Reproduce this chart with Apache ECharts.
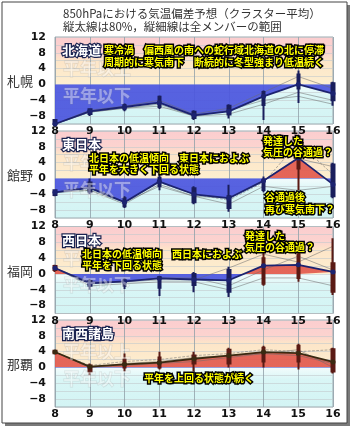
<!DOCTYPE html>
<html>
<head>
<meta charset="utf-8">
<script src="https://cdn.jsdelivr.net/npm/echarts@6/dist/echarts.min.js"></script>
<style>
  html, body { margin: 0; padding: 0; background: #fff; }
  #chart { width: 353px; height: 429px; }
</style>
</head>
<body>
<div id="chart"></div>
<script>
// days of the month on the x axis
const days = ['8', '9', '10', '11', '12', '13', '14', '15', '16'];

// 札幌 (北海道)
const sapporoMean = [-10, -6.8, -5.7, -4.6, -7.8, -6.8, -3.0, 0, -2.3];
const sapporo80 = [[-10, -9], [-7.5, -6.3], [-6.3, -5.2], [-5.7, -3.1], [-8.5, -6.9], [-7.6, -5.4], [-5.2, -1.9], [-1, 2.5], [-4, 0.3]];
const sapporoAll = [[-10, -9], [-8, -6], [-6.8, -4.8], [-6.2, -2.8], [-9, -6.5], [-8.6, -5], [-9, -1.5], [-4.7, 3.5], [-5.4, 0.7]];
const sapporoMembers = [
  [-10, -7, -6, -5, -8, -7.5, -5, -2, -4],
  [-10, -6.5, -5.5, -4, -7.5, -6, -2, 2, -1],
  [-10, -7, -6, -5.5, -8, -6.5, -4, -3, -5]
];

// 館野 (東日本)
const tatenoMean = [-3.5, -2.4, -6, -0.8, -4, -5, -0.6, 5.2, -1.5];
const tateno80 = [[-4.2, -3], [-3.5, -1], [-7, -5], [-2, 0.2], [-6, -2.5], [-7.5, -4.5], [-2.9, -0.3], [2.5, 5.6], [-4.5, 3.5]];
const tatenoAll = [[-4.5, -2.8], [-4, 0], [-7.5, -4.5], [-3, 1], [-6.5, -2], [-8.4, -1.6], [-3.5, 0.5], [-3, 6.5], [-5, 4]];
const tatenoMembers = [
  [-3.5, -2, -6, -1, -4, -5.5, -1, 9, 1],
  [-3.5, -3, -6.5, -1.5, -4.5, -5, -0.5, 5, 3],
  [-3.5, -3, -6, -2, -4.5, -6.5, -2, -3, -2]
];

// 福岡 (西日本)
const fukuokaMean = [1.5, -2.4, -1.9, -1.1, -1.4, -1.6, 2.1, 2.3, 0.5];
const fukuoka80 = [[1, 2], [-3, -1.8], [-3, -1.5], [-3.5, -0.8], [-2.8, 0], [-4.5, 1], [-2.5, 4], [-1, 5], [-4.5, 2.7]];
const fukuokaAll = [[0.5, 2.3], [-4, -1.2], [-3.8, -1], [-5.6, -0.5], [-4.6, 0.5], [-5.8, 1.8], [-3, 6.5], [-2, 5.5], [-5.3, 9]];
const fukuokaMembers = [
  [1.5, -2.5, -2, -1.5, -1.5, 1.5, 5, 3, 7],
  [1.5, -2, -2, -1, -1, -3, 1, 4.5, 1],
  [1.5, -3, -2.5, -2, -2, -4, -1, -1, -3]
];

// 那覇 (南西諸島)
const nahaMean = [3.9, 0.2, 0.8, 1.2, 2.2, 3, 3.9, 3.6, 1.4];
const naha80 = [[3.6, 4.2], [-1, 0.5], [0, 2], [0, 2.5], [1, 3], [1, 4.5], [1.5, 5], [1.5, 5.5], [-1, 4.6]];
const nahaAll = [[3.5, 4.3], [-2, 1], [-1, 3.5], [-0.5, 4], [-1, 4], [0, 5], [0, 5.5], [-0.5, 6], [-1.5, 5]];
const nahaMembers = [
  [3.9, 0.5, 1.5, 2, 3, 3.5, 4.5, 4, 4.5],
  [3.9, 0, 0.5, 1, 1.5, 2.5, 3.5, 3, 1],
  [3.9, 0, 1, 1.5, 2.5, 3, 3.5, 4.5, 0]
];

const stations = [
  { name: '札幌', region: '北海道', mean: sapporoMean, p80: sapporo80, all: sapporoAll, members: sapporoMembers, lineColor: '#1c2370', dashed: [] },
  { name: '館野', region: '東日本', mean: tatenoMean, p80: tateno80, all: tatenoAll, members: tatenoMembers, lineColor: '#1c2370', dashed: [0] },
  { name: '福岡', region: '西日本', mean: fukuokaMean, p80: fukuoka80, all: fukuokaAll, members: fukuokaMembers, lineColor: '#1c2370', dashed: [] },
  { name: '那覇', region: '南西諸島', mean: nahaMean, p80: naha80, all: nahaAll, members: nahaMembers, lineColor: '#3a2a12', dashed: [0] }
];

const tops = [37, 131, 226.5, 320];
const H = 87;
const YMIN = -10, YMAX = 12;
const valToY = (i, v) => tops[i] + (YMAX - v) * H / (YMAX - YMIN);

const CJK = '"Noto Sans CJK JP"';
const RED = '#e25a4e', BLUE = '#4b55de';
const bg = new echarts.graphic.LinearGradient(0, 0, 0, 1, [
  { offset: 0, color: '#fbcdcf' },
  { offset: 0.18, color: '#fcd3cf' },
  { offset: 0.27, color: '#fde5c8' },
  { offset: 0.545, color: '#fdefd0' },
  { offset: 0.546, color: '#f3fcfc' },
  { offset: 0.68, color: '#d9f6f6' },
  { offset: 1, color: '#d3f4f4' }
]);

// area between mean and 0: red above, blue below (gradient over the area's own box)
function areaFill(mean) {
  const hi = Math.max(0, ...mean), lo = Math.min(0, ...mean);
  const z = hi === lo ? 0 : hi / (hi - lo);
  return new echarts.graphic.LinearGradient(0, 0, 0, 1, [
    { offset: 0, color: RED }, { offset: z, color: RED },
    { offset: z, color: BLUE }, { offset: 1, color: BLUE }
  ]);
}

const grids = [], xAxes = [], yAxes = [], series = [];

stations.forEach((s, i) => {
  grids.push({
    left: 55, right: 20, top: tops[i], height: H,
    show: true, backgroundColor: bg, borderColor: '#9eaab0', borderWidth: 1
  });
  xAxes.push({
    gridIndex: i, type: 'category', data: days, boundaryGap: false,
    axisLine: { show: false }, axisTick: { show: false },
    axisLabel: { interval: 0, margin: 2, fontSize: 11, fontWeight: 'bold', color: '#111', fontFamily: 'DejaVu Sans' },
    splitLine: { show: true, lineStyle: { color: '#8fa0a8', width: 0.8 } }
  });
  yAxes.push({
    gridIndex: i, type: 'value', min: YMIN, max: YMAX, interval: 2,
    axisLine: { show: false }, axisTick: { show: false },
    axisLabel: {
      margin: 9, fontSize: 11, fontWeight: 'bold', color: '#111', fontFamily: 'DejaVu Sans',
      formatter: v => (v % 4 === 0 ? (v < 0 ? '\u2212' + Math.abs(v) : String(v)) : '')
    },
    splitLine: { show: true, lineStyle: { color: '#c2c9cc', width: 0.6 } }
  });

  series.push({
    type: 'line', xAxisIndex: i, yAxisIndex: i, data: s.mean,
    symbol: 'none', lineStyle: { width: 0 },
    areaStyle: { color: areaFill(s.mean), opacity: 0.92, origin: 0 },
    silent: true, z: 2
  });

  // cluster members, thin gray
  s.members.forEach((m, k) => {
    series.push({
      type: 'line', xAxisIndex: i, yAxisIndex: i, data: m, symbol: 'none', silent: true,
      lineStyle: { color: '#6b6b6b', width: 0.7, opacity: 0.75, type: s.dashed.includes(k) ? 'dashed' : 'solid' },
      z: 3
    });
  });

  // 80% (thick) and full range (thin) bars
  series.push({
    type: 'candlestick', xAxisIndex: i, yAxisIndex: i, barWidth: 3, silent: true, z: 4,
    data: s.p80.map((b, d) => {
      const c = s.mean[d] > 0 ? '#5a1a14' : (i === 3 ? '#3a2a12' : '#1a1e5c');
      return {
        value: [b[0], b[1], s.all[d][0], s.all[d][1]],
        itemStyle: { color: c, color0: c, borderColor: c, borderColor0: c, borderWidth: 2 }
      };
    })
  });

  // cluster mean
  series.push({
    type: 'line', xAxisIndex: i, yAxisIndex: i, data: s.mean, silent: true,
    symbol: 'circle', symbolSize: 5,
    lineStyle: { color: s.lineColor, width: 1.8 }, itemStyle: { color: s.lineColor },
    z: 5
  });
});

// decoration texts
const yellow = (x, y, text) => ({
  type: 'text', x, y, z: 100,
  style: { text, fill: '#ffff00', stroke: '#000', lineWidth: 3, font: 'bold 10px ' + CJK, textVerticalAlign: 'middle' }
});
const regionLabel = (x, y, text) => ({
  type: 'text', x, y, z: 100,
  style: { text, fill: '#fff', stroke: '#1a2350', lineWidth: 2.5, font: 'bold 13px ' + CJK, textVerticalAlign: 'middle' }
});
const watermark = (x, y, text) => ({
  type: 'text', x, y, z: 90,
  style: { text, fill: 'rgba(255,255,255,0.4)', stroke: 'rgba(140,140,140,0.22)', lineWidth: 1, font: 'bold 17px ' + CJK, textVerticalAlign: 'middle' }
});

const graphics = [
  { type: 'rect', z: -10, shape: { x: 5, y: 5, width: 345, height: 421 }, style: { fill: '#7a7a7a' } },
  { type: 'rect', z: -9, shape: { x: 2, y: 2, width: 345, height: 421 }, style: { fill: '#fff', stroke: '#444', lineWidth: 1 } },
  { type: 'text', x: 63, y: 14, style: { text: '850hPaにおける気温偏差予想（クラスター平均）', fill: '#333', font: '11.5px ' + CJK, textVerticalAlign: 'middle' } },
  { type: 'text', x: 63, y: 27, style: { text: '縦太線は80%，縦細線は全メンバーの範囲', fill: '#333', font: '11.5px ' + CJK, textVerticalAlign: 'middle' } }
];

stations.forEach((s, i) => {
  graphics.push({
    type: 'text', x: 20, y: valToY(i, 0) - 3, z: 100,
    style: { text: s.name, fill: '#333', font: '13px ' + CJK, textAlign: 'center', textVerticalAlign: 'middle' }
  });
  graphics.push(watermark(63, valToY(i, 4), '平年以上'));
  graphics.push(watermark(63, valToY(i, -2.7), '平年以下'));
  graphics.push(regionLabel(62, tops[i] + 13.5, s.region));
});

graphics.push(
  yellow(104, 50, '寒冷渦　偏西風の南への蛇行域北海道の北に停滞'),
  yellow(104, 62, '周期的に寒気南下　断続的に冬型強まり低温続く'),
  yellow(89, 158, '北日本の低温傾向　東日本におよぶ'),
  yellow(89, 169, '平年を大きく下回る状態'),
  yellow(263, 141, '発達した'),
  yellow(263, 152, '気圧の谷通過？'),
  yellow(265, 197.5, '谷通過後'),
  yellow(265, 209.5, '再び寒気南下？'),
  yellow(82, 254.5, '北日本の低温傾向　西日本におよぶ'),
  yellow(82, 265.5, '平年を下回る状態'),
  yellow(245, 236, '発達した'),
  yellow(245, 247, '気圧の谷通過？'),
  yellow(144, 378, '平年を上回る状態が続く')
);

const chart = echarts.init(document.getElementById('chart'));
chart.setOption({
  animation: false,
  backgroundColor: '#fff',
  grid: grids,
  xAxis: xAxes,
  yAxis: yAxes,
  graphic: graphics,
  series: series
});
</script>
</body>
</html>
